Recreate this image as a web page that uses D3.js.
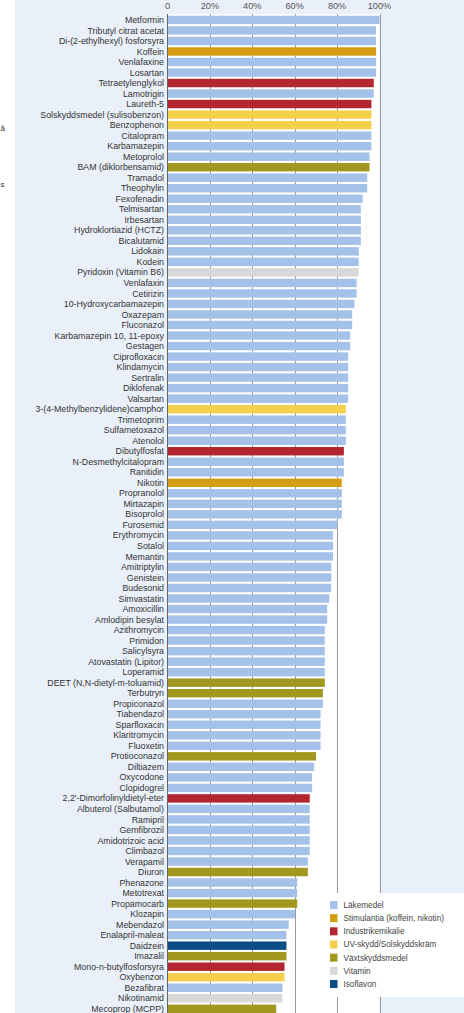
<!DOCTYPE html>
<html><head><meta charset="utf-8">
<script src="https://cdn.jsdelivr.net/npm/d3@7"></script>
<style>
html,body{margin:0;padding:0;background:#eaf0fa;}
svg{display:block;font-family:"Liberation Sans",Arial,sans-serif;}
</style></head>
<body>
<script>
const names = ["Metformin","Tributyl citrat acetat","Di-(2-ethylhexyl) fosforsyra","Koffein","Venlafaxine","Losartan","Tetraetylenglykol","Lamotrigin","Laureth-5","Solskyddsmedel (sulisobenzon)","Benzophenon","Citalopram","Karbamazepin","Metoprolol","BAM (diklorbensamid)","Tramadol","Theophylin","Fexofenadin","Telmisartan","Irbesartan","Hydroklortiazid (HCTZ)","Bicalutamid","Lidokain","Kodein","Pyridoxin (Vitamin B6)","Venlafaxin","Cetirizin","10-Hydroxycarbamazepin","Oxazepam","Fluconazol","Karbamazepin 10, 11-epoxy","Gestagen","Ciprofloxacin","Klindamycin","Sertralin","Diklofenak","Valsartan","3-(4-Methylbenzylidene)camphor","Trimetoprim","Sulfametoxazol","Atenolol","Dibutylfosfat","N-Desmethylcitalopram","Ranitidin","Nikotin","Propranolol","Mirtazapin","Bisoprolol","Furosemid","Erythromycin","Sotalol","Memantin","Amitriptylin","Genistein","Budesonid","Simvastatin","Amoxicillin","Amlodipin besylat","Azithromycin","Primidon","Salicylsyra","Atovastatin (Lipitor)","Loperamid","DEET (N,N-dietyl-m-toluamid)","Terbutryn","Propiconazol","Tiabendazol","Sparfloxacin","Klaritromycin","Fluoxetin","Protioconazol","Diltiazem","Oxycodone","Clopidogrel","2,2'-Dimorfolinyldietyl-eter","Albuterol (Salbutamol)","Ramipril","Gemfibrozil","Amidotrizoic acid","Climbazol","Verapamil","Diuron","Phenazone","Metotrexat","Propamocarb","Klozapin","Mebendazol","Enalapril-maleat","Daidzein","Imazalil","Mono-n-butylfosforsyra","Oxybenzon","Bezafibrat","Nikotinamid","Mecoprop (MCPP)"];

const values = [100,98.3,98.3,98.4,98.4,98.4,97.3,97.3,96.2,96.2,96.2,96.2,96.2,95.3,95.3,94.2,94.2,92.1,91.2,91.2,91.2,91.2,90.2,90.2,90.2,89.2,89.2,88.2,87.1,87.1,86.2,86.2,85.2,85.2,85.2,85.2,85.2,84.1,84.1,84.1,84.1,83.2,83.2,83.2,82.2,82.2,82.2,82.2,80.2,78.1,78.1,78.1,77.2,77.2,77.2,76.3,75.3,75.3,74.2,74.2,74.2,74.2,74.2,74.2,73.3,73.3,72.2,72.2,72.2,72.2,70.1,69.2,68.2,68.2,67.1,67.1,67.1,67.1,67.1,67.1,66.2,66.2,61.2,61.2,61.2,60.2,57.2,56.1,56.1,56.1,55.2,55.2,54.2,54.2,51.3];

// category index per bar (0 Läkemedel, 1 Stimulantia, 2 Industri, 3 UV, 4 Växtskydd, 5 Vitamin, 6 Isoflavon)
const groups = [0,0,0,1,0,0,2,0,2,3,3,0,0,0,4,0,0,0,0,0,0,0,0,0,5,0,0,0,0,0,0,0,0,0,0,0,0,3,0,0,0,2,0,0,1,0,0,0,0,0,0,0,0,0,0,0,0,0,0,0,0,0,0,4,4,0,0,0,0,0,4,0,0,0,2,0,0,0,0,0,0,4,0,0,4,0,0,0,6,4,2,3,0,5,4];

const legendLabels = ["Läkemedel","Stimulantia (koffein, nikotin)","Industrikemikalie","UV-skydd/Solskyddskräm","Växtskyddsmedel","Vitamin","Isoflavon"];
const legendColors = ["#a3c1e9","#d39e14","#b32630","#f4d04c","#a3981f","#d8d8d8","#0c4c87"];
const tickValues = [0,20,40,60,80,100];

const W = 464, H = 1013;
const svg = d3.select("body").append("svg").attr("width",W).attr("height",H);

// left white strip & fragments of text from neighbouring page
svg.append("rect").attr("x",0).attr("y",0).attr("width",15).attr("height",H).attr("fill","#ffffff");
svg.append("text").attr("x",0.5).attr("y",131).attr("font-size",8).attr("fill","#333").text("å");
svg.append("text").attr("x",0.5).attr("y",187).attr("font-size",8).attr("fill","#333").text("s");

const x = d3.scaleLinear().domain([0,100]).range([167.5,379.5]);
const y = d3.scaleBand().domain(names).range([13.6, 13.6 + 10.52*95.2]).padding(0.2);
const color = d3.scaleOrdinal().domain(d3.range(7)).range(legendColors);

// plot white area
svg.append("rect").attr("x",x(0)).attr("y",14).attr("width",x(100)-x(0)).attr("height",H-14).attr("fill","#ffffff");

// gridlines
svg.append("g").selectAll("line").data(tickValues.slice(1)).join("line")
  .attr("x1",d=>Math.round(x(d))+0.5).attr("x2",d=>Math.round(x(d))+0.5)
  .attr("y1",14).attr("y2",H)
  .attr("stroke","#9a9a9a").attr("stroke-width",1);

// tick labels
svg.append("g").selectAll("text").data(tickValues).join("text")
  .attr("x",d=>x(d)).attr("y",8.5).attr("text-anchor","middle")
  .attr("font-size",9.2).attr("fill","#555").text(d=> d===0 ? "0" : d+"%");

// bars
const data = names.map((n,i)=>({name:n,value:values[i],group:groups[i]}));
svg.append("g").selectAll("rect").data(data).join("rect")
  .attr("x",x(0)).attr("y",d=>y(d.name))
  .attr("width",d=>x(d.value)-x(0)).attr("height",y.bandwidth())
  .attr("fill",d=>color(d.group));

// axis line
svg.append("line").attr("x1",x(0)).attr("x2",x(0)).attr("y1",14).attr("y2",H)
  .attr("stroke","#666").attr("stroke-width",1);

// category labels
svg.append("g").selectAll("text").data(data).join("text")
  .attr("x",x(0)-3.5).attr("y",d=>y(d.name)+y.bandwidth()/2).attr("dy","0.35em")
  .attr("text-anchor","end").attr("font-size",8.8).attr("fill","#333").text(d=>d.name);

// legend
const lg = svg.append("g");
lg.append("rect").attr("x",325).attr("y",893).attr("width",W-325).attr("height",104).attr("fill","#ffffff");
const ly = d3.scalePoint().domain(legendLabels).range([905,984]);
lg.selectAll("rect.sw").data(legendLabels).join("rect").attr("class","sw")
  .attr("x",330).attr("y",d=>ly(d)-4).attr("width",7.5).attr("height",8)
  .attr("fill",(d,i)=>legendColors[i]);
lg.selectAll("text").data(legendLabels).join("text")
  .attr("x",343.5).attr("y",d=>ly(d)).attr("dy","0.35em")
  .attr("font-size",8.2).attr("fill","#444").text(d=>d);
</script>
</body></html>
